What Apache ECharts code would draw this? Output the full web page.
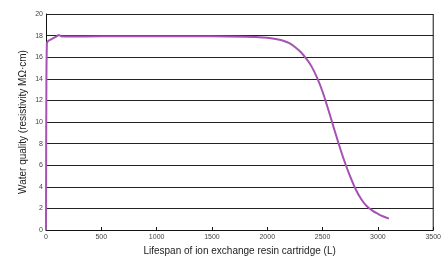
<!DOCTYPE html>
<html><head><meta charset="utf-8">
<script src="https://cdn.jsdelivr.net/npm/echarts@6/dist/echarts.min.js"></script>
<style>html,body{margin:0;padding:0;background:#fff}#c{width:444px;height:262px}</style>
</head><body><div id="c"></div>
<script>
const xValues = [0, 3, 8, 20, 40, 70, 100, 115, 135, 200, 500, 1000, 1500, 1800, 1900, 2000, 2050, 2100, 2150, 2200, 2250, 2300, 2350, 2400, 2450, 2500, 2550, 2600, 2650, 2700, 2750, 2800, 2850, 2900, 2950, 3000, 3050, 3100];
const yValues = [0, 12, 17.3, 17.5, 17.62, 17.78, 17.95, 18.05, 17.95, 17.92, 17.93, 17.95, 17.93, 17.9, 17.86, 17.8, 17.73, 17.63, 17.5, 17.3, 16.95, 16.5, 15.9, 15.15, 14.1, 12.8, 11.2, 9.5, 7.85, 6.3, 4.95, 3.75, 2.85, 2.2, 1.8, 1.5, 1.25, 1.05];
const xName = 'Lifespan of ion exchange resin cartridge (L)';
const yName = 'Water quality (resistivity MΩ·cm)';

const chart = echarts.init(document.getElementById('c'), null, {renderer: 'canvas'});
chart.setOption({
  animation: false,
  grid: {left: 46, right: 6, top: 14, bottom: 32, show: false},
  xAxis: {
    type: 'value', min: 0, max: 3500, interval: 500,
    name: xName, nameLocation: 'middle', nameGap: 16, nameMoveOverlap: false,
    nameTextStyle: {fontFamily: 'Liberation Sans', fontSize: 10, color: '#222'},
    axisLine: {show: true, lineStyle: {color: '#111', width: 1}},
    axisTick: {show: true, length: 3, inside: true, lineStyle: {color: '#111'}},
    axisLabel: {fontFamily: 'Liberation Sans', fontSize: 7, color: '#444', margin: 4,
      formatter: v => String(v)},
    splitLine: {show: false}
  },
  yAxis: {
    type: 'value', min: 0, max: 20, interval: 2,
    name: yName, nameLocation: 'middle', nameGap: 18, nameMoveOverlap: false,
    nameTextStyle: {fontFamily: 'Liberation Sans', fontSize: 10, color: '#222'},
    axisLine: {show: true, lineStyle: {color: '#111', width: 1}},
    axisTick: {show: false},
    axisLabel: {fontFamily: 'Liberation Sans', fontSize: 7, color: '#444', margin: 3},
    splitLine: {show: true, lineStyle: {color: '#222', width: 1}}
  },
  series: [{
    type: 'line',
    data: xValues.map((x, i) => [x, yValues[i]]),
    smooth: 0.4,
    showSymbol: false,
    lineStyle: {color: '#a553b3', width: 2},
    itemStyle: {color: '#a553b3'}
  }, {
    type: 'line',
    data: [[3500, 0], [3500, 20]],
    showSymbol: false,
    silent: true,
    lineStyle: {color: '#111', width: 1}
  }]
});
</script></body></html>
